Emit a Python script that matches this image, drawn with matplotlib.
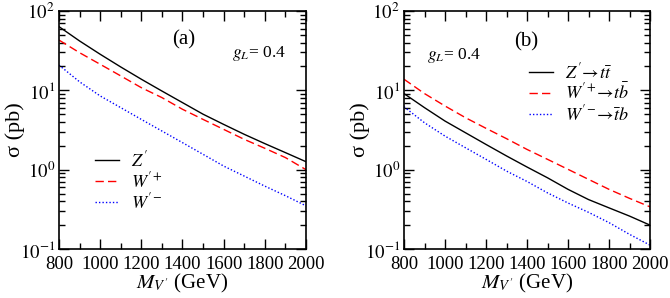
import matplotlib
matplotlib.use("Agg")
import matplotlib.pyplot as plt
import numpy as np
from matplotlib.ticker import LogLocator, MultipleLocator, FuncFormatter

plt.rcParams['font.family'] = ['Liberation Serif', 'DejaVu Serif']
plt.rcParams['mathtext.fontset'] = 'stix'

mass = [800, 900, 1000, 1100, 1200, 1300, 1400, 1500, 1600, 1700, 1800, 1900, 2000]

# panel (a)
sig_Z = [63.5, 41.9, 28.5, 19.7, 13.8, 9.8, 7.0, 5.0, 3.72, 2.79, 2.13, 1.64, 1.26]
sig_Wp = [43, 29.8, 21.3, 15.2, 10.8, 8.1, 5.77, 4.3, 3.22, 2.41, 1.86, 1.42, 1.0]
sig_Wm = [20.8, 12.8, 8.5, 6.05, 4.3, 3.07, 2.19, 1.56, 1.11, 0.83, 0.62, 0.47, 0.35]

# panel (b)
sig_Ztt = [9.1, 6.05, 4.1, 2.92, 2.08, 1.49, 1.08, 0.79, 0.565, 0.42, 0.33, 0.26, 0.20]
sig_Wptb = [13.8, 9.1, 6.35, 4.52, 3.32, 2.46, 1.80, 1.35, 1.01, 0.755, 0.565, 0.435, 0.34]
sig_Wmtb = [6.2, 3.9, 2.65, 1.89, 1.35, 0.96, 0.71, 0.51, 0.38, 0.29, 0.215, 0.153, 0.112]

labels_a = [r"$Z'$", r"$W'^{+}$", r"$W'^{-}$"]
labels_b = [r"$Z'\!\rightarrow\! t\bar{t}$", r"$W'^{+}\!\rightarrow\! t\bar{b}$",
            r"$W'^{-}\!\rightarrow\! \bar{t}b$"]

fig = plt.figure(figsize=(6.7, 2.98), dpi=100)
W, H = 670, 298
axa = fig.add_axes([59/W, 1-249/H, (306-59)/W, (249-11)/H])
axb = fig.add_axes([404/W, 1-249/H, (650-404)/W, (249-11)/H])

styles = [dict(color='black', ls='-', lw=1.0),
          dict(color='#ff0000', ls=(0, (6, 3)), lw=1.0),
          dict(color='#0000ff', ls=(0, (1, 1.5)), lw=1.0)]

def logfmt(v, pos):
    e = int(round(np.log10(v)))
    return r"$10^{%d}$" % e

for ax, data, labels in [(axa, [sig_Z, sig_Wp, sig_Wm], labels_a),
                         (axb, [sig_Ztt, sig_Wptb, sig_Wmtb], labels_b)]:
    for d, st, lab in zip(data, styles, labels):
        ax.plot(mass, d, label=lab, **st)
    ax.set_yscale('log')
    ax.set_xlim(800, 2000)
    ax.set_ylim(0.1, 100)
    ax.xaxis.set_major_locator(MultipleLocator(200))
    ax.xaxis.set_minor_locator(MultipleLocator(100))
    ax.yaxis.set_major_locator(LogLocator(base=10, numticks=10))
    ax.yaxis.set_minor_locator(LogLocator(base=10, subs=np.arange(2, 10), numticks=10))
    ax.yaxis.set_major_formatter(FuncFormatter(logfmt))
    ax.tick_params(which='both', direction='in', top=True, right=True, labelsize=13.5)
    ax.tick_params(which='major', length=7, width=1)
    ax.tick_params(which='minor', length=4, width=1)
    ax.tick_params(axis='x', pad=5)
    ax.tick_params(axis='y', pad=3)
    for s in ax.spines.values():
        s.set_linewidth(1.2)
    ax.set_xlabel(r"$M_{V'}$ (GeV)", fontsize=15, labelpad=-1)
    ax.set_ylabel("σ (pb)", fontsize=16)
    ax.yaxis.set_label_coords(-0.138, 0.5)

axa.text(0.506, 0.878, "(a)", transform=axa.transAxes, fontsize=15, ha='center', va='center')
axa.text(0.70, 0.82, r"$g_L$= 0.4", transform=axa.transAxes, fontsize=12.5, ha='left', va='center')
axa.legend(loc='upper left', bbox_to_anchor=(0.146, 0.415), frameon=False, fontsize=13,
           handlelength=1.33, handletextpad=0.65, labelspacing=0.05, borderpad=0,
           borderaxespad=0)

axb.text(0.496, 0.87, "(b)", transform=axb.transAxes, fontsize=15, ha='center', va='center')
axb.text(0.093, 0.815, r"$g_L$= 0.4", transform=axb.transAxes, fontsize=12.5, ha='left', va='center')
axb.legend(loc='upper left', bbox_to_anchor=(0.508, 0.785), frameon=False, fontsize=13,
           handlelength=1.33, handletextpad=0.65, labelspacing=0.05, borderpad=0,
           borderaxespad=0)

fig.savefig("out.png", dpi=100)
